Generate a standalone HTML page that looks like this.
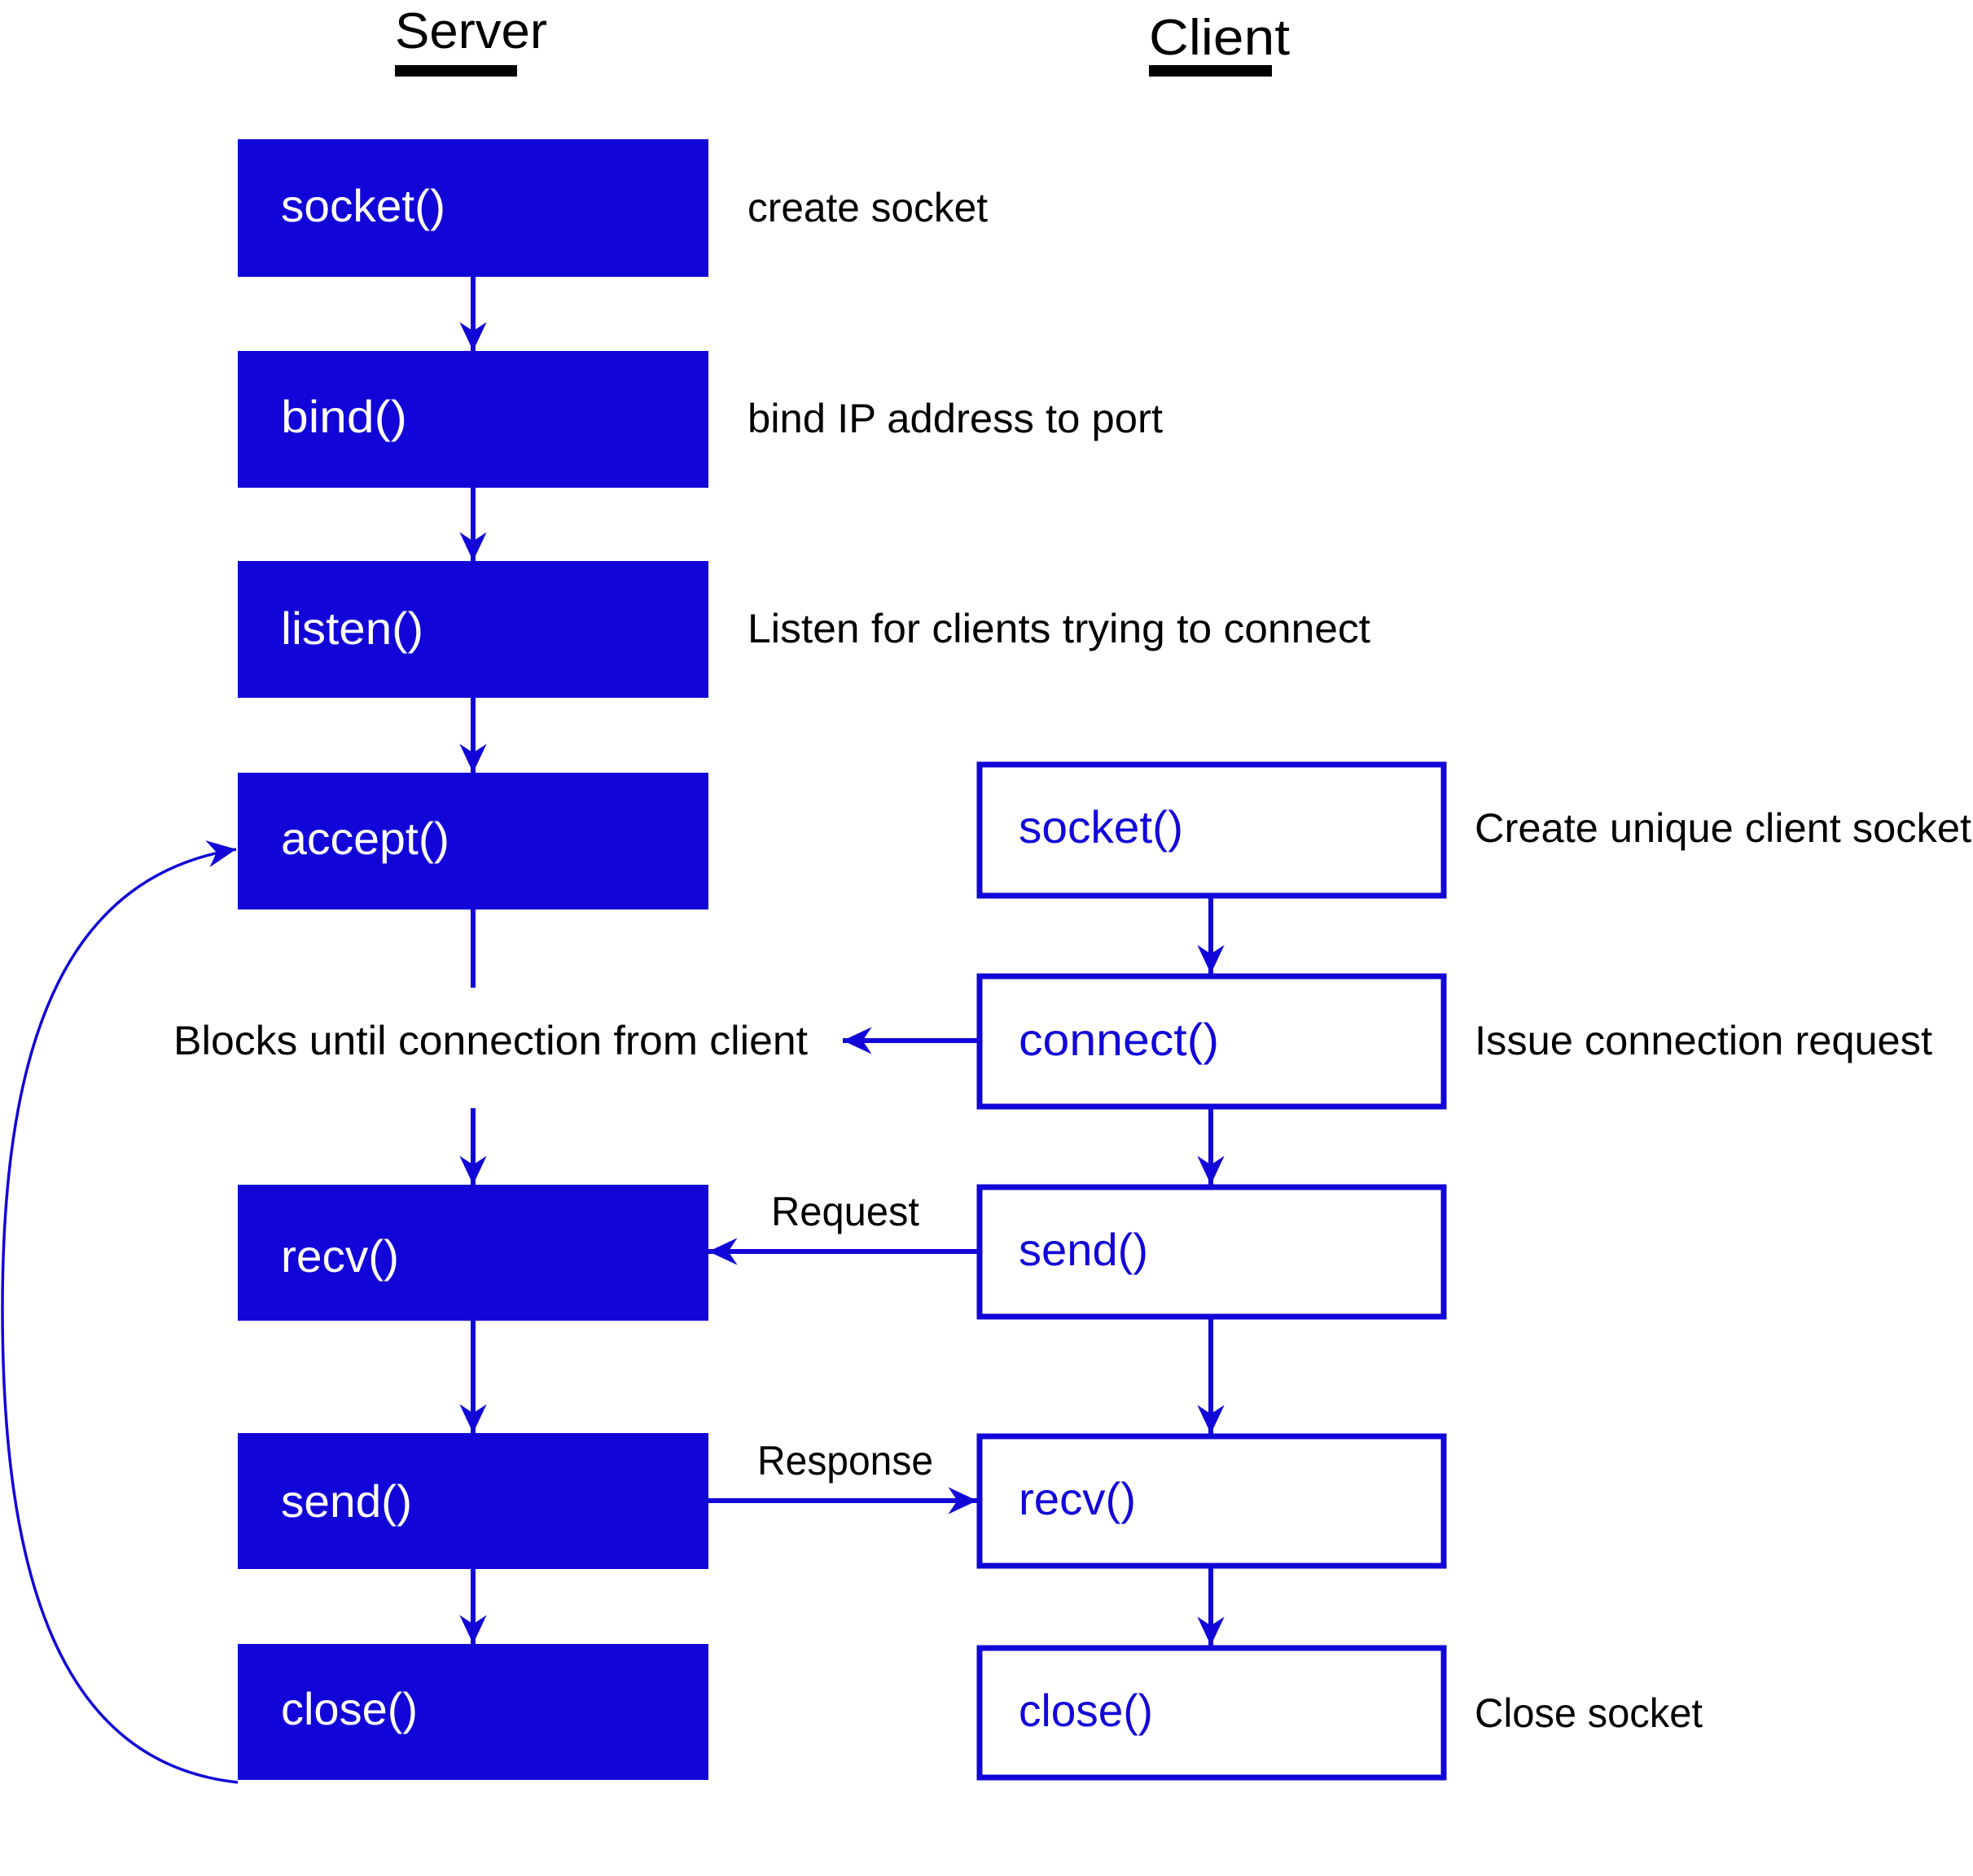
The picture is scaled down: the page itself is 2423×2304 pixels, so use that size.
<!DOCTYPE html>
<html><head><meta charset="utf-8"><style>
html,body{margin:0;padding:0;background:#fff;}
svg{display:block;}
text{font-family:"Liberation Sans Narrow","Liberation Sans",sans-serif;}
</style></head><body>
<svg width="2423" height="2304" viewBox="0 0 2423 2304" xmlns="http://www.w3.org/2000/svg">
<defs>
<marker id="ah" markerWidth="40" markerHeight="40" refX="0" refY="0" viewBox="-34 -16 36 32" markerUnits="userSpaceOnUse" orient="auto">
<path d="M0,0 L-32,-15 L-22,0 L-32,15 Z" fill="#1205D8"/>
</marker>
</defs>
<text x="485" y="59" font-size="62" textLength="187" lengthAdjust="spacingAndGlyphs">Server</text>
<rect x="485" y="80" width="150" height="14" fill="#000"/>
<text x="1411" y="67" font-size="62" textLength="173" lengthAdjust="spacingAndGlyphs">Client</text>
<rect x="1411" y="80" width="151" height="14" fill="#000"/>

<g fill="#1205D8">
<rect x="292" y="171" width="578" height="169"/>
<rect x="292" y="431" width="578" height="168"/>
<rect x="292" y="689" width="578" height="168"/>
<rect x="292" y="949" width="578" height="168"/>
<rect x="292" y="1455" width="578" height="167"/>
<rect x="292" y="1760" width="578" height="167"/>
<rect x="292" y="2019" width="578" height="167"/>
</g>
<g fill="#fff" font-size="56">
<text x="345" y="272" textLength="202" lengthAdjust="spacingAndGlyphs">socket()</text>
<text x="345" y="531" textLength="155" lengthAdjust="spacingAndGlyphs">bind()</text>
<text x="345" y="791" textLength="175" lengthAdjust="spacingAndGlyphs">listen()</text>
<text x="345" y="1049" textLength="207" lengthAdjust="spacingAndGlyphs">accept()</text>
<text x="345" y="1562" textLength="145" lengthAdjust="spacingAndGlyphs">recv()</text>
<text x="345" y="1863" textLength="161" lengthAdjust="spacingAndGlyphs">send()</text>
<text x="345" y="2118" textLength="168" lengthAdjust="spacingAndGlyphs">close()</text>
</g>

<g fill="none" stroke="#1205D8" stroke-width="7">
<rect x="1203" y="939" width="570" height="161"/>
<rect x="1203" y="1199" width="570" height="160"/>
<rect x="1203" y="1458" width="570" height="159"/>
<rect x="1203" y="1764" width="570" height="159"/>
<rect x="1203" y="2024" width="570" height="159"/>
</g>
<g fill="#1205D8" font-size="56">
<text x="1251" y="1035" textLength="202" lengthAdjust="spacingAndGlyphs">socket()</text>
<text x="1251" y="1296" textLength="246" lengthAdjust="spacingAndGlyphs">connect()</text>
<text x="1251" y="1554" textLength="159" lengthAdjust="spacingAndGlyphs">send()</text>
<text x="1251" y="1860" textLength="144" lengthAdjust="spacingAndGlyphs">recv()</text>
<text x="1251" y="2120" textLength="165" lengthAdjust="spacingAndGlyphs">close()</text>
</g>

<g fill="#000" font-size="50">
<text x="918" y="272" textLength="295" lengthAdjust="spacingAndGlyphs">create socket</text>
<text x="918" y="531" textLength="510" lengthAdjust="spacingAndGlyphs">bind IP address to port</text>
<text x="918" y="789" textLength="765" lengthAdjust="spacingAndGlyphs">Listen for clients trying to connect</text>
<text x="1811" y="1034" textLength="610" lengthAdjust="spacingAndGlyphs">Create unique client socket</text>
<text x="1811" y="1295" textLength="562" lengthAdjust="spacingAndGlyphs">Issue connection request</text>
<text x="1811" y="2121" textLength="280" lengthAdjust="spacingAndGlyphs">Close socket</text>
<text x="213" y="1295" textLength="779" lengthAdjust="spacingAndGlyphs">Blocks until connection from client</text>
<text x="947" y="1505" textLength="182" lengthAdjust="spacingAndGlyphs">Request</text>
<text x="930" y="1811" textLength="216" lengthAdjust="spacingAndGlyphs">Response</text>
</g>

<g stroke="#1205D8" stroke-width="6" fill="none">
<line x1="581" y1="340" x2="581" y2="431" marker-end="url(#ah)"/>
<line x1="581" y1="599" x2="581" y2="689" marker-end="url(#ah)"/>
<line x1="581" y1="857" x2="581" y2="949" marker-end="url(#ah)"/>
<line x1="581" y1="1117" x2="581" y2="1213"/>
<line x1="581" y1="1361" x2="581" y2="1455" marker-end="url(#ah)"/>
<line x1="581" y1="1622" x2="581" y2="1760" marker-end="url(#ah)"/>
<line x1="581" y1="1927" x2="581" y2="2019" marker-end="url(#ah)"/>
<line x1="1487" y1="1103" x2="1487" y2="1196" marker-end="url(#ah)"/>
<line x1="1487" y1="1362" x2="1487" y2="1455" marker-end="url(#ah)"/>
<line x1="1487" y1="1620" x2="1487" y2="1761" marker-end="url(#ah)"/>
<line x1="1487" y1="1926" x2="1487" y2="2021" marker-end="url(#ah)"/>
<line x1="1200" y1="1278" x2="1035" y2="1278" marker-end="url(#ah)"/>
<line x1="1200" y1="1537" x2="870" y2="1537" marker-end="url(#ah)"/>
<line x1="870" y1="1843" x2="1200" y2="1843" marker-end="url(#ah)"/>
</g>
<path d="M292,2189 C70,2165 3,1930 3,1607 C3,1260 90,1075 290,1043" fill="none" stroke="#1205D8" stroke-width="3.5" marker-end="url(#ah)"/>
</svg>
</body></html>
